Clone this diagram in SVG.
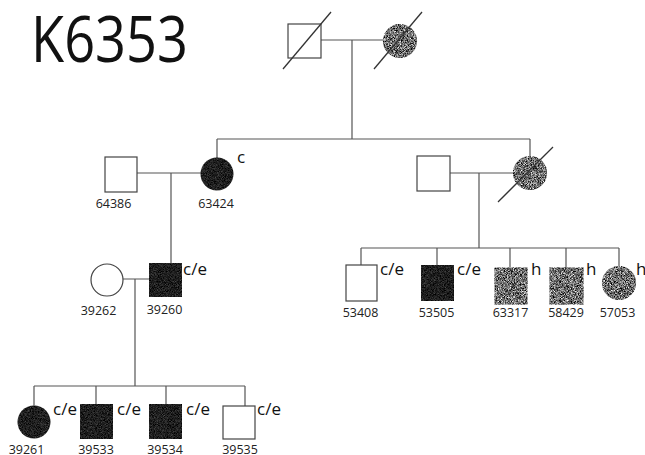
<svg xmlns="http://www.w3.org/2000/svg" width="645" height="455" viewBox="0 0 645 455">
<style>
.ln{stroke:#555;stroke-width:1.2;fill:none}
.sym{stroke:#444;stroke-width:1.2}
.un{fill:#fff}
.blk{fill:#222;filter:url(#spkB)}
.gry{fill:#777;filter:url(#spkG)}
.sl{stroke:#333;stroke-width:1.3}
.id{font-family:"Open Sans","DejaVu Sans",sans-serif;font-size:12.5px;fill:#222;text-anchor:middle}
.st{font-family:"Open Sans","DejaVu Sans",sans-serif;font-size:17px;fill:#111}
.title{font-family:"Open Sans","DejaVu Sans",sans-serif;font-size:64px;fill:#111}
</style>
<defs>
<filter id="spkG" x="-10%" y="-10%" width="120%" height="120%" color-interpolation-filters="sRGB">
<feTurbulence type="fractalNoise" baseFrequency="1.3" numOctaves="3" seed="3" result="n"/>
<feColorMatrix in="n" type="matrix" values="1.7 0 0 0 -0.42  1.7 0 0 0 -0.42  1.7 0 0 0 -0.42  0 0 0 0 1" result="g"/>
<feComposite in="g" in2="SourceGraphic" operator="in"/>
</filter>
<filter id="spkB" x="-10%" y="-10%" width="120%" height="120%" color-interpolation-filters="sRGB">
<feTurbulence type="fractalNoise" baseFrequency="1.3" numOctaves="3" seed="7" result="n"/>
<feColorMatrix in="n" type="matrix" values="0.5 0 0 0 -0.13  0.5 0 0 0 -0.13  0.5 0 0 0 -0.13  0 0 0 0 1" result="g"/>
<feComposite in="g" in2="SourceGraphic" operator="in"/>
</filter>
</defs>
<rect width="645" height="455" fill="#fff"/>
<text class="title" x="31" y="62" textLength="157" lengthAdjust="spacingAndGlyphs">K6353</text>

<g id="connectors">
<path class="ln" d="M321 40H384M352 40V139M217 139H530M217 139V158M530 139V157"/>
<path class="ln" d="M137 173H201M171 173V263M450 173H514M479 173V248"/>
<path class="ln" d="M361 248H619M361 248V265M437 248V265M510 248V268M566 248V268M619 248V266.5"/>
<path class="ln" d="M123 279H149M135 279V386M34 386H245M34 386V405.5M96 386V404M166 386V404M245 386V406"/>
</g>

<g id="gen1-father"><rect class="sym un" x="288" y="24" width="33" height="34"/><line class="sl" x1="283" y1="69" x2="331" y2="12"/></g>
<g id="gen1-mother"><circle class="sym gry" cx="400" cy="41" r="16.5"/><line class="sl" x1="374" y1="69" x2="422" y2="12"/></g>

<g id="n64386"><rect class="sym un" x="105" y="157" width="32" height="35"/><text class="id" x="113.5" y="208">64386</text></g>
<g id="n63424"><circle class="blk" cx="217" cy="174" r="16.5"/><text class="id" x="216" y="208">63424</text><text class="st" x="237" y="163">c</text></g>
<g id="gen2-husband"><rect class="sym un" x="417" y="156" width="33" height="35"/></g>
<g id="gen2-wife"><circle class="sym gry" cx="530" cy="173" r="16.5"/><line class="sl" x1="498" y1="202" x2="553" y2="147"/></g>

<g id="n39262"><circle class="sym un" cx="107" cy="280" r="16"/><text class="id" x="98.5" y="315">39262</text></g>
<g id="n39260"><rect class="blk" x="149" y="263" width="33" height="34"/><text class="id" x="164.5" y="314">39260</text><text class="st" x="183" y="275">c/e</text></g>

<g id="n53408"><rect class="sym un" x="346" y="265" width="31" height="36"/><text class="id" x="360.5" y="317">53408</text><text class="st" x="380" y="275">c/e</text></g>
<g id="n53505"><rect class="blk" x="421" y="265" width="33" height="36"/><text class="id" x="436.5" y="317">53505</text><text class="st" x="457" y="275">c/e</text></g>
<g id="n63317"><rect class="sym gry" x="495" y="268" width="32" height="36"/><text class="id" x="510.5" y="317">63317</text><text class="st" x="531" y="275">h</text></g>
<g id="n58429"><rect class="sym gry" x="550" y="268" width="33" height="36"/><text class="id" x="566" y="317">58429</text><text class="st" x="586" y="275">h</text></g>
<g id="n57053"><circle class="sym gry" cx="619" cy="283" r="16.5"/><text class="id" x="617.5" y="317">57053</text><text class="st" x="636" y="275">h</text></g>

<g id="n39261"><circle class="blk" cx="34" cy="422" r="16.5"/><text class="id" x="26.5" y="454">39261</text><text class="st" x="53" y="415">c/e</text></g>
<g id="n39533"><rect class="blk" x="80" y="404" width="33" height="35"/><text class="id" x="96" y="454">39533</text><text class="st" x="117" y="415">c/e</text></g>
<g id="n39534"><rect class="blk" x="149" y="404" width="33" height="35"/><text class="id" x="165" y="454">39534</text><text class="st" x="186" y="415">c/e</text></g>
<g id="n39535"><rect class="sym un" x="223" y="406" width="32" height="33"/><text class="id" x="240" y="454">39535</text><text class="st" x="257" y="415">c/e</text></g>
</svg>
